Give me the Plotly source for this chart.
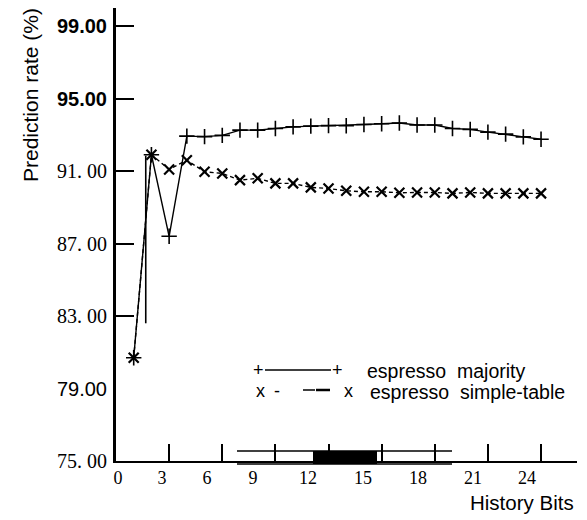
import plotly.graph_objects as go

# ---- data -------------------------------------------------------------
history_bits = list(range(1, 25))
espresso_majority = [80.7, 91.9, 87.4, 92.93, 92.9, 92.97, 93.26, 93.26,
                     93.35, 93.44, 93.48, 93.51, 93.5, 93.57, 93.61, 93.65,
                     93.54, 93.54, 93.35, 93.30, 93.15, 93.04, 92.89, 92.76]
espresso_simple_table = [80.7, 91.9, 91.09, 91.6, 90.96, 90.87, 90.5, 90.6,
                         90.32, 90.32, 90.1, 90.04, 89.91, 89.86, 89.86, 89.8,
                         89.82, 89.82, 89.77, 89.82, 89.77, 89.77, 89.77, 89.77]
# short vertical rule between the first two history lengths
rule_x = [1.68, 1.68]
rule_y = [82.6, 91.85]

x_ticks = [0, 3, 6, 9, 12, 15, 18, 21, 24]
y_ticks = [75, 79, 83, 87, 91, 95, 99]
y_tick_text = ["75. 00", "79.00", "83. 00", "87. 00", "91. 00", "95.00", "99.00"]
y_tick_style = ["serif", "sans", "serif", "serif", "serif", "bold", "bold"]

# ---- layout geometry (pixels) ------------------------------------------
W, H = 587, 520
PL, PR, PT, PB = 116, 577, 8, 461
X_RANGE = [0, (PR - PL) / 17.71]
Y_RANGE = [75, 100]

SANS = "Liberation Sans, Arial, sans-serif"
SERIF = "Liberation Serif, Times New Roman, serif"


def px_x(px):
    return (px - PL) / (PR - PL)


def px_y(py):
    return (PB - py) / (PB - PT)


def px_to_bits(px):
    return (px - PL) / 17.71


# tick label centres along the bottom axis
x_label_px = [118, 162, 207, 253, 308, 363, 418, 473, 527]


def styled(text, style):
    if style == "bold":
        return f"<b>{text}</b>"
    if style == "serif":
        return f"<span style=\"font-family:'Liberation Serif'\">{text}</span>"
    return text


fig = go.Figure()

fig.add_trace(go.Scatter(
    x=history_bits, y=espresso_majority, mode="lines+markers",
    line=dict(color="black", width=1.4),
    marker=dict(symbol="cross-thin", size=11, line=dict(color="black", width=1.6)),
    showlegend=False, hoverinfo="skip"))

fig.add_trace(go.Scatter(
    x=history_bits, y=espresso_simple_table, mode="lines+markers",
    line=dict(color="black", width=1.4, dash="4px,3px"),
    marker=dict(symbol="x-thin", size=10, line=dict(color="black", width=2.2)),
    showlegend=False, hoverinfo="skip"))

fig.add_trace(go.Scatter(
    x=rule_x, y=rule_y, mode="lines",
    line=dict(color="black", width=1.6),
    showlegend=False, hoverinfo="skip"))

# carrier for the label axes
fig.add_trace(go.Scatter(x=[], y=[], xaxis="x2", yaxis="y2",
                         showlegend=False, hoverinfo="skip"))

fig.update_layout(
    width=W, height=H,
    margin=dict(l=PL, r=W - PR, t=PT, b=H - PB, pad=0),
    paper_bgcolor="white", plot_bgcolor="white",
    font=dict(family=SANS, color="black"),
    xaxis=dict(
        range=X_RANGE, showgrid=False, zeroline=False,
        showline=True, linecolor="black", linewidth=2,
        ticks="inside", ticklen=17, tickwidth=1.5, tickcolor="black",
        tickvals=x_ticks, showticklabels=False),
    yaxis=dict(
        range=Y_RANGE, showgrid=False, zeroline=False,
        showline=True, linecolor="black", linewidth=3,
        ticks="inside", ticklen=18, tickwidth=1.5, tickcolor="black",
        tickvals=[v for v in y_ticks if v >= 83], showticklabels=False),
    xaxis2=dict(
        overlaying="x", anchor="y2", side="bottom", range=X_RANGE,
        showgrid=False, zeroline=False, showline=False, ticks="",
        tickvals=[px_to_bits(p) for p in x_label_px],
        ticktext=[str(t) for t in x_ticks],
        tickfont=dict(family=SERIF, size=18, color="black"),
        ticklabelstandoff=4),
    yaxis2=dict(
        overlaying="y", anchor="x2", side="left", range=Y_RANGE,
        showgrid=False, zeroline=False, showline=False, ticks="",
        tickvals=y_ticks,
        ticktext=[styled(t, s) for t, s in zip(y_tick_text, y_tick_style)],
        tickfont=dict(family=SANS, size=20, color="black"),
        ticklabelstandoff=8),
)

annotations = [
    dict(x=px_x(31), y=px_y(95), text="Prediction rate (%)", textangle=-90,
         font=dict(family=SANS, size=21)),
    dict(x=px_x(576), y=px_y(502), text="History Bits", xanchor="right",
         font=dict(family=SANS, size=20.5)),
    # legend
    dict(x=px_x(258), y=px_y(369.5), text="+", font=dict(family=SANS, size=18)),
    dict(x=px_x(337), y=px_y(369.5), text="+", font=dict(family=SANS, size=18)),
    dict(x=px_x(365), y=px_y(370.5), text="espresso\u00a0\u00a0majority",
         xanchor="left", font=dict(family=SANS, size=19.5)),
    dict(x=px_x(260), y=px_y(390.5), text="x", font=dict(family=SANS, size=18)),
    dict(x=px_x(277), y=px_y(390.5), text="-", font=dict(family=SANS, size=18)),
    dict(x=px_x(348), y=px_y(390.5), text="x", font=dict(family=SANS, size=18)),
    dict(x=px_x(368), y=px_y(391.5), text="espresso\u00a0\u00a0simple-table",
         xanchor="left", font=dict(family=SANS, size=19.5)),
]
for a in annotations:
    a.update(xref="paper", yref="paper", showarrow=False)
    a.setdefault("xanchor", "center")
    a.setdefault("yanchor", "middle")
fig.update_layout(annotations=annotations)

shapes = [
    # legend line samples
    dict(type="line", x0=px_x(265), x1=px_x(331), y0=px_y(370), y1=px_y(370),
         line=dict(color="black", width=1.6)),
    dict(type="line", x0=px_x(303), x1=px_x(315), y0=px_y(390), y1=px_y(390),
         line=dict(color="black", width=1.5)),
    dict(type="line", x0=px_x(316), x1=px_x(330), y0=px_y(390), y1=px_y(390),
         line=dict(color="black", width=2.5)),
    # bracket band on the bottom axis
    dict(type="line", x0=px_x(237), x1=px_x(452), y0=px_y(451), y1=px_y(451),
         line=dict(color="black", width=1.5)),
    dict(type="line", x0=px_x(237), x1=px_x(452), y0=px_y(464), y1=px_y(464),
         line=dict(color="black", width=1.5)),
    dict(type="rect", x0=px_x(313), x1=px_x(377), y0=px_y(464), y1=px_y(451),
         fillcolor="black", line=dict(width=0)),
]
for s in shapes:
    s.update(xref="paper", yref="paper")
fig.update_layout(shapes=shapes)

fig.write_html("out.html")
